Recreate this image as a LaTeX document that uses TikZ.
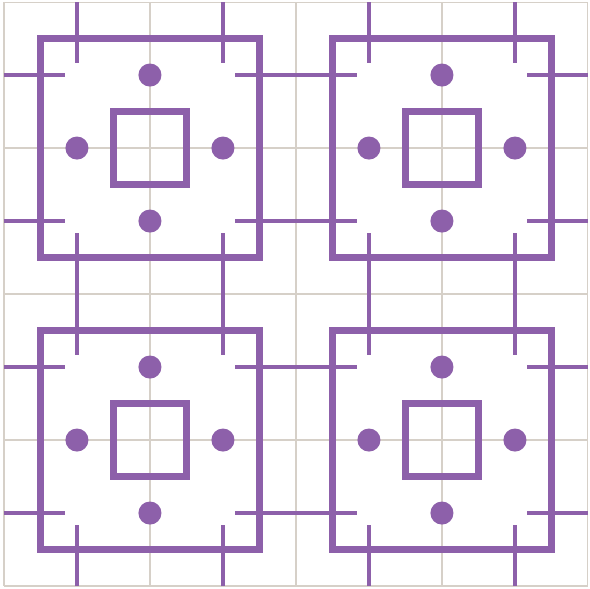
\documentclass[tikz,border=0pt]{standalone}
\usepackage{xcolor}
\usepackage{tikz}
\definecolor{tilepurple}{RGB}{141,96,170}
\definecolor{gridgray}{RGB}{214,208,200}

\begin{document}
\begin{tikzpicture}[scale=2,
    frame/.style={draw=tilepurple, line width=2.7pt},
    tickline/.style={draw=tilepurple, line width=1.75pt},
    knob/.style={fill=tilepurple}]
  \useasboundingbox (-0.027,-0.014) rectangle (4.014,4.014);
  % background grid
  \draw[gridgray, line width=0.45pt] (0,0) grid (4,4);
  % four tiles
  \foreach \cx in {1,3} {
    \foreach \cy in {1,3} {
      \begin{scope}[shift={(\cx,\cy)}]
        \coordinate (T) at (0,0); % tile centre
        \draw[frame] (-0.75,-0.75) rectangle (0.75,0.75);  % outer square
        \draw[frame] (-0.25,-0.25) rectangle (0.25,0.25);  % inner square
        % dots
        \foreach \a in {0,90,180,270}
          \fill[knob] (T) ++(\a:0.5) circle (0.079);
        % corner ticks
        \foreach \sx in {-1,1} {
          \foreach \sy in {-1,1} {
            \draw[tickline] (0.5*\sx,\sy) -- (0.5*\sx,0.58*\sy);
            \draw[tickline] (\sx,0.5*\sy) -- (0.58*\sx,0.5*\sy);
          }
        }
      \end{scope}
    }
  }
\end{tikzpicture}
\end{document}
